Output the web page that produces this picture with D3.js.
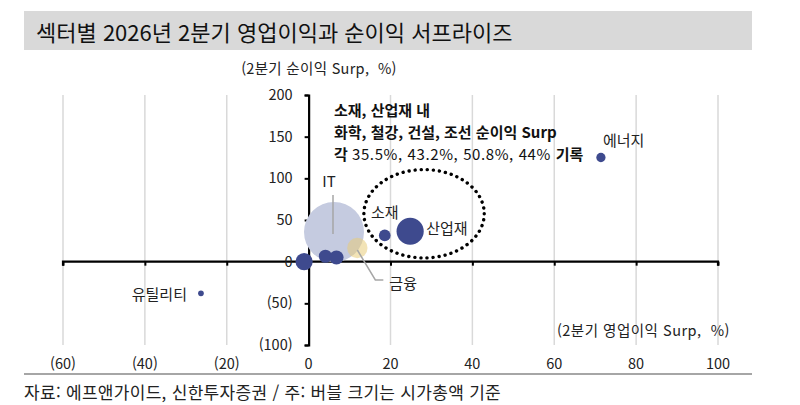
<!DOCTYPE html>
<html lang="ko">
<head>
<meta charset="utf-8">
<script src="https://cdn.jsdelivr.net/npm/d3@7"></script>
<style>
    html, body { margin: 0; padding: 0; background: #fff; }
    svg { display: block; font-family: "Noto Sans CJK KR", "Noto Sans", sans-serif; }
    .pre { white-space: pre; }
</style>
</head>
<body>
<svg id="chart" width="800" height="405"></svg>
<script>
// --- DATA ---
const sectors   = ["IT", "금융", "", "", "", "소재", "산업재", "에너지", "유틸리티"];
const opSurp    = [6.2, 11.9, -1.1, 4.1, 6.8, 18.6, 24.8, 71.4, -26.3];   // x: 2분기 영업이익 Surp (%)
const netSurp   = [35.6, 16.4, 0, 6.5, 5, 31.5, 36.5, 125, -38];          // y: 2분기 순이익 Surp (%)
const marketCap = [100, 11.5, 8.2, 4.8, 5.6, 3.8, 20.5, 2.4, 0.9];        // 버블 크기 (상대 시가총액)

const xTicks = [-60, -40, -20, 0, 20, 40, 60, 80, 100];
const yTicks = [-100, -50, 0, 50, 100, 150, 200];

const noteLines = [
    "소재, 산업재 내",
    "화학, 철강, 건설, 조선 순이익 Surp"
];
const noteValues = ["각 ", "35.5%, 43.2%, 50.8%, 44% ", "기록"];

const title  = "섹터별 2026년 2분기 영업이익과 순이익 서프라이즈";
const yTitle = "(2분기 순이익 Surp,  %)";
const xTitle = "(2분기 영업이익 Surp,  %)";
const source = "자료: 에프앤가이드, 신한투자증권 / 주: 버블 크기는 시가총액 기준";

document.addEventListener("DOMContentLoaded", () => {
    drawChart();
});

function fmt(v) {
    return v < 0 ? "(" + Math.abs(v) + ")" : String(v);
}

function drawChart() {
    const svg = d3.select("#chart");

    const x = d3.scaleLinear().domain([-60, 100]).range([63, 718]);
    const y = d3.scaleLinear().domain([-100, 200]).range([345, 95]);
    const r = d3.scaleSqrt().domain([0, d3.max(marketCap)]).range([0, 30]);

    const dark = "#3e4a8e";

    // ---------------------------------
    // Title bar
    // ---------------------------------
    svg.append("rect")
        .attr("x", 24).attr("y", 11)
        .attr("width", 728).attr("height", 39)
        .attr("fill", "#d9d9d9");

    svg.append("text")
        .attr("x", 36).attr("y", 31)
        .attr("dominant-baseline", "central")
        .style("font-size", "22px")
        .attr("fill", "#111")
        .text(title);

    // ---------------------------------
    // Grid lines (vertical)
    // ---------------------------------
    svg.selectAll(".grid")
        .data(xTicks.filter(d => d !== 0))
        .enter()
        .append("line")
        .attr("x1", d => x(d)).attr("x2", d => x(d))
        .attr("y1", y(200)).attr("y2", y(-100))
        .attr("stroke", "#d9d9d9")
        .attr("stroke-width", 1.5);

    // x axis drawn on y = 0
    const xAxis = d3.axisBottom(x).tickValues(xTicks).tickSize(4).tickFormat("");
    const gx = svg.append("g")
        .attr("transform", `translate(0,${y(0)})`)
        .call(xAxis);
    gx.select(".domain").attr("stroke", "#000").attr("stroke-width", 2.2)
        .attr("d", `M${x(-60)},4V0H${x(100)}V4`);
    gx.selectAll(".tick line").attr("stroke", "#000").attr("stroke-width", 2);

    // x tick labels at the bottom
    svg.selectAll(".xlab")
        .data(xTicks)
        .enter()
        .append("text")
        .attr("x", d => x(d))
        .attr("y", 362)
        .attr("text-anchor", "middle")
        .attr("dominant-baseline", "central")
        .style("font-size", "14.5px")
        .attr("fill", "#222")
        .text(fmt);

    // y axis drawn on x = 0
    const yAxis = d3.axisLeft(y).tickValues(yTicks).tickSize(4).tickPadding(12).tickFormat(fmt);
    const gy = svg.append("g")
        .attr("transform", `translate(${x(0)},0)`)
        .call(yAxis);
    gy.select(".domain").attr("stroke", "#000").attr("stroke-width", 2.2);
    gy.selectAll(".tick line").attr("stroke", "#000").attr("stroke-width", 2);
    gy.selectAll(".tick text")
        .style("font-size", "14.5px")
        .style("font-family", "'Noto Sans CJK KR', sans-serif")
        .attr("fill", "#222");

    // axis titles
    svg.append("text")
        .attr("class", "pre")
        .attr("x", 319).attr("y", 67)
        .attr("text-anchor", "middle")
        .attr("dominant-baseline", "central")
        .style("font-size", "14.5px")
        .style("letter-spacing", "0.3px")
        .attr("fill", "#222")
        .text(yTitle);

    svg.append("text")
        .attr("class", "pre")
        .attr("x", 730).attr("y", 329)
        .attr("text-anchor", "end")
        .attr("dominant-baseline", "central")
        .style("font-size", "14.5px")
        .style("letter-spacing", "0.5px")
        .attr("fill", "#222")
        .text(xTitle);

    // ---------------------------------
    // Bubbles
    // ---------------------------------
    const data = sectors.map((s, i) => ({
        name: s, x: opSurp[i], y: netSurp[i], cap: marketCap[i]
    }));

    const fills = { "IT": "#c5cbe0", "금융": "#e8cc7a" };

    svg.selectAll(".bubble")
        .data(data)
        .enter()
        .append("circle")
        .attr("cx", d => x(d.x))
        .attr("cy", d => y(d.y))
        .attr("r", d => r(d.cap))
        .attr("fill", d => fills[d.name] || dark)
        .attr("fill-opacity", d => d.name === "금융" ? 0.55 : 1);

    // leader lines (IT, 금융)
    const it = data[0], fin = data[1];
    svg.append("line")
        .attr("x1", x(it.x) - 1).attr("x2", x(it.x) - 1)
        .attr("y1", 195).attr("y2", y(it.y) + 2)
        .attr("stroke", "#a6a6a6").attr("stroke-width", 1.5);

    svg.append("polyline")
        .attr("points", `${x(fin.x)},${y(fin.y) + 2} ${x(fin.x) + 18},280 ${x(fin.x) + 26},280`)
        .attr("fill", "none")
        .attr("stroke", "#a6a6a6").attr("stroke-width", 1.5);

    // labels
    const labels = [
        { i: 0, dx: -5, dy: -52, anchor: "middle" },
        { i: 1, dx: 32, dy: 34, anchor: "start" },
        { i: 5, dx: 0, dy: -24, anchor: "middle" },
        { i: 6, dx: 16, dy: -4, anchor: "start" },
        { i: 7, dx: 2, dy: -18, anchor: "start" },
        { i: 8, dx: -14, dy: 0, anchor: "end" }
    ];
    svg.selectAll(".blabel")
        .data(labels)
        .enter()
        .append("text")
        .attr("x", d => x(data[d.i].x) + d.dx)
        .attr("y", d => y(data[d.i].y) + d.dy)
        .attr("text-anchor", d => d.anchor)
        .attr("dominant-baseline", "central")
        .style("font-size", "15px")
        .attr("fill", "#222")
        .text(d => data[d.i].name);

    // ---------------------------------
    // Dotted ellipse around 소재 / 산업재
    // ---------------------------------
    svg.append("ellipse")
        .attr("cx", x(28.2)).attr("cy", y(57.5))
        .attr("rx", x(28.2) - x(13.5)).attr("ry", y(4.5) - y(57.5))
        .attr("fill", "none")
        .attr("stroke", "#000")
        .attr("stroke-width", 3.4)
        .attr("stroke-linecap", "round")
        .attr("stroke-dasharray", "0.1 6");

    // annotation
    const note = svg.append("g").style("font-size", "15px").attr("fill", "#111");
    noteLines.forEach((t, i) => {
        note.append("text")
            .attr("x", 334).attr("y", 109 + i * 22)
            .attr("dominant-baseline", "central")
            .style("font-weight", "bold")
            .text(t);
    });
    const last = note.append("text")
        .attr("x", 334).attr("y", 153)
        .attr("dominant-baseline", "central");
    noteValues.forEach((t, i) => {
        last.append("tspan")
            .style("font-weight", i === 1 ? "normal" : "bold")
            .style("letter-spacing", i === 1 ? "0.6px" : "0px")
            .text(t);
    });

    // ---------------------------------
    // Footer
    // ---------------------------------
    svg.append("line")
        .attr("x1", 24).attr("x2", 752)
        .attr("y1", 374).attr("y2", 374)
        .attr("stroke", "#a6a6a6").attr("stroke-width", 2);

    svg.append("text")
        .attr("x", 24).attr("y", 391)
        .attr("dominant-baseline", "central")
        .style("font-size", "17px")
        .style("letter-spacing", "0.3px")
        .attr("fill", "#222")
        .text(source);
}
</script>
</body>
</html>
